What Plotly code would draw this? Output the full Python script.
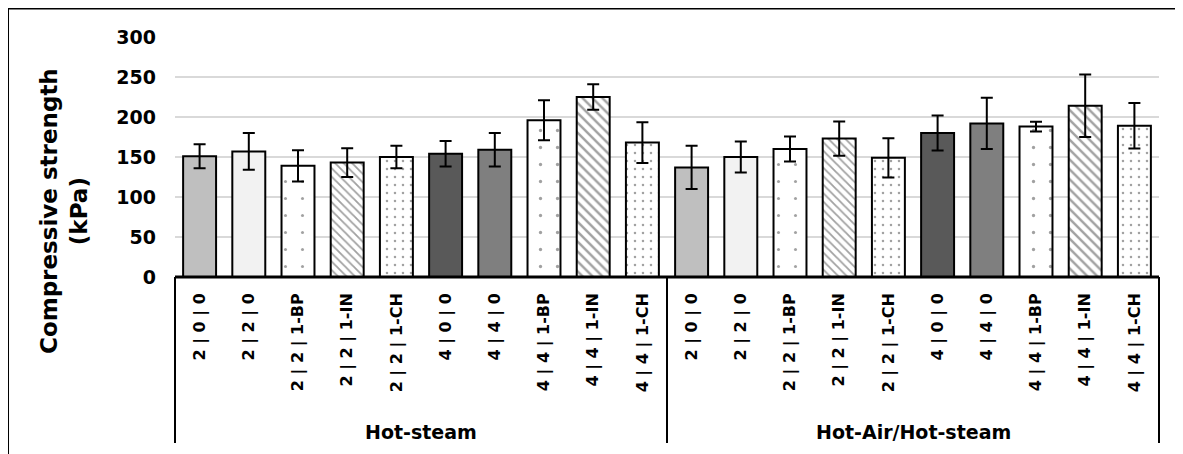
import plotly.graph_objects as go

groups = ["Hot-steam", "Hot-Air/Hot-steam"]
labels = ["2 | 0 | 0", "2 | 2 | 0", "2 | 2 | 1-BP", "2 | 2 | 1-IN", "2 | 2 | 1-CH",
          "4 | 0 | 0", "4 | 4 | 0", "4 | 4 | 1-BP", "4 | 4 | 1-IN", "4 | 4 | 1-CH"]
hot_steam = [151, 157, 139, 143, 150, 154, 159, 196, 225, 168]
hot_steam_err = [15, 23, 19.5, 18, 14, 16, 21, 25, 16, 25.5]
hot_air_steam = [137, 150, 160, 173, 149, 180, 192, 188, 214, 189]
hot_air_steam_err = [27, 19.5, 15.5, 21.5, 24.5, 22, 32, 6, 39, 28.5]
y_ticks = [0, 50, 100, 150, 200, 250, 300]

values = hot_steam + hot_air_steam
errors = hot_steam_err + hot_air_steam_err
all_labels = labels + labels
xpos = list(range(len(values)))

base_colors = ["#BFBFBF", "#F2F2F2", "#FFFFFF", "#FFFFFF", "#FFFFFF",
               "#595959", "#7F7F7F", "#FFFFFF", "#FFFFFF", "#FFFFFF"] * 2
shapes_p = ["", "", ".", "\\", ".", "", "", ".", "\\", "."] * 2
fg = ["#000", "#000", "#8a8a8a", "#808080", "#9a9a9a",
      "#000", "#000", "#000000", "#000000", "#000000"] * 2
psize = [8, 8, 17, 6, 8, 8, 8, 17, 7, 8] * 2
psol = [0.3, 0.3, 0.025, 0.3, 0.08, 0.3, 0.3, 0.03, 0.35, 0.08] * 2

fig = go.Figure()
fig.add_trace(go.Bar(
    x=xpos, y=values, width=0.67,
    marker=dict(color=base_colors, line=dict(color="black", width=2),
                pattern=dict(shape=shapes_p, fgcolor=fg, bgcolor=base_colors,
                             size=psize, solidity=psol)),
    error_y=dict(type="data", array=errors, visible=True, color="black",
                 thickness=2, width=6),
    showlegend=False,
))

font_family = "DejaVu Sans"
fig.update_layout(
    width=1183, height=454,
    margin=dict(l=167, r=32, t=29, b=185),
    paper_bgcolor="white", plot_bgcolor="white",
    font=dict(family=font_family, color="black"),
    xaxis=dict(range=[-0.5, 19.5], tickmode="array", tickvals=xpos, ticktext=all_labels,
               tickangle=-90, tickfont=dict(size=16, family=font_family, weight="bold"),
               showgrid=False, zeroline=False, showline=False, ticks="",
               ticklabelstandoff=12),
    yaxis=dict(range=[0, 300], tickvals=y_ticks, showgrid=True, gridcolor="#D9D9D9",
               gridwidth=2, zeroline=False, showline=False, ticks="",
               tickfont=dict(size=19, family=font_family, weight="bold"),
               ticklabelstandoff=18),
)

# category box lines
fig.add_shape(type="line", xref="paper", yref="paper", x0=0, x1=1, y0=0, y1=0,
              line=dict(color="black", width=3))
for xp in [0, 0.5, 1]:
    fig.add_shape(type="line", xref="paper", yref="paper", x0=xp, x1=xp, y0=0, y1=-0.692,
                  line=dict(color="black", width=2))
# outer frame
fig.add_shape(type="rect", xref="paper", yref="paper", x0=-0.1697, x1=1.5, y0=-1.5, y1=1.1188,
              line=dict(color="black", width=2), fillcolor="rgba(0,0,0,0)", layer="below")

for i, g in enumerate(groups):
    fig.add_annotation(text=g, xref="paper", yref="paper", x=0.25 + 0.5 * i, y=-0.646,
                       showarrow=False, font=dict(size=19, family=font_family, weight="bold"),
                       xanchor="center", yanchor="middle")

fig.add_annotation(text="Compressive strength<br>(kPa)", xref="paper", yref="paper",
                   x=(64 - 175) / 984, y=(277 - 211) / 240, textangle=-90,
                   showarrow=False, font=dict(size=23, family=font_family, weight="bold"),
                   xanchor="center", yanchor="middle")

fig.write_html("out.html")
